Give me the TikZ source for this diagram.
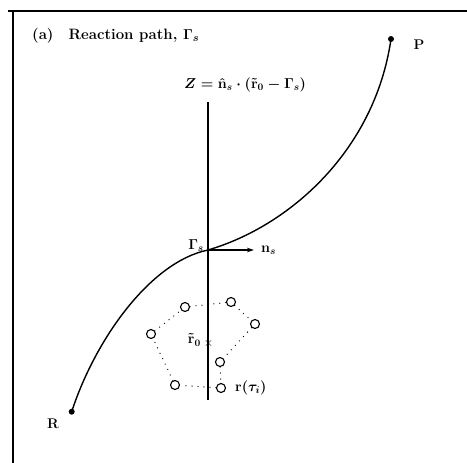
\documentclass[tikz,border=0pt]{standalone}
\usetikzlibrary{arrows.meta}
\begin{document}
\begin{tikzpicture}[x=1pt,y=-1pt,
  lbl/.style={inner sep=0pt,font=\fontsize{14.5}{17}\selectfont\boldmath},
  frameline/.style={line width=1.4pt},
  pathline/.style={line width=1.4pt},
  planeline/.style={line width=1.8pt},
  bead/.style={circle,draw,line width=1.1pt,minimum size=9pt,inner sep=0pt},
  endpt/.style={circle,fill,minimum size=6pt,inner sep=0pt},
  ring/.style={line width=1.3pt,line cap=round,dash pattern=on 0pt off 6pt}]
\useasboundingbox (0,0) rectangle (467,463);
% frame
\coordinate (ftl) at (13,11);
\coordinate (ftr) at (467,11);
\coordinate (fl0) at (8,11);
\coordinate (fbl) at (13,463);
\draw[frameline] (fl0) -- (ftr);
\draw[frameline] (ftl) -- (fbl);
% title
\node[lbl,anchor=west,font=\fontsize{15}{18}\selectfont\bfseries\boldmath] (title) at (32,36) {(a)\quad Reaction path, $\Gamma_s$};
% reaction path
\node[endpt] (R) at (71.7,411.7) {};
\node[endpt] (P) at (391,39) {};
\coordinate (G) at (208,250);
\draw[pathline] (R.center) .. controls (95,340) and (150,262) .. (G)
  .. controls (290,226) and (375,150) .. (P.center);
\node[lbl,font=\fontsize{14}{17}\selectfont\bfseries] (Rl) at (53,424) {R};
\node[lbl,font=\fontsize{14}{17}\selectfont\bfseries] (Pl) at (419,45) {P};
% dividing plane
\coordinate (Ztop) at (208,102);
\coordinate (Zbot) at (208,400);
\draw[planeline] (Ztop) -- (Zbot);
\node[lbl] (Zl) at (245,85) {$Z=\hat{\mathbf n}_s\cdot(\tilde{\mathbf r}_0-\Gamma_s)$};
\node[lbl,anchor=south east] (Gl) at (204,252) {$\Gamma_s$};
\coordinate (nend) at (254,250);
\draw[line width=1.1pt,-{Stealth[length=7pt,width=4.5pt]}] (G) -- (nend);
\node[lbl,anchor=west] (nl) at (261,250) {$\mathbf n_s$};
% ring polymer
\node[bead] (c1) at (185,307) {};
\node[bead] (c2) at (231,302) {};
\node[bead] (c3) at (255,324) {};
\node[bead] (c4) at (220,362) {};
\node[bead] (c5) at (221,388) {};
\node[bead] (c6) at (175,385) {};
\node[bead] (c7) at (151,334) {};
\draw[ring] (c1) -- (c2);
\draw[ring] (c2) -- (c3);
\draw[ring] (c3) -- (c4);
\draw[ring] (c4) -- (c5);
\draw[ring] (c5) -- (c6);
\draw[ring] (c6) -- (c7);
\draw[ring] (c7) -- (c1);
\node[lbl,font=\fontsize{13}{15}\selectfont] (x0) at (208.5,343) {$\times$};
\node[lbl,anchor=east] (r0l) at (201,340) {$\tilde{\mathbf r}_0$};
\node[lbl,anchor=west] (rl) at (235,388) {$\mathbf r(\tau_i)$};
\end{tikzpicture}
\end{document}
